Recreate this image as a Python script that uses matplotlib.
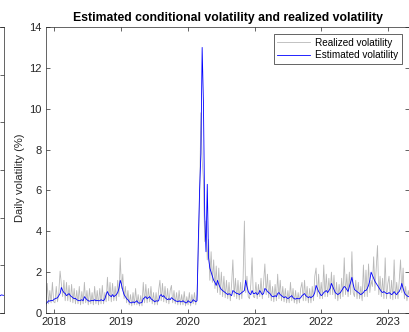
import pandas as pd
import matplotlib
matplotlib.use('Agg')
import matplotlib.pyplot as plt

plt.rcParams['font.family'] = ['Liberation Sans', 'DejaVu Sans']

# Weekly (Friday) values, daily volatility in %, grouped by calendar year
est_2017 = [0.45, 0.52, 0.6, 0.58, 0.62, 0.6, 0.65]
est_2018 = [0.7, 0.72, 0.75, 0.85,
            0.95, 1.25, 1.1, 1.0,
            0.95, 0.85, 0.9, 0.95, 0.85,
            0.8, 0.75, 0.7, 0.72,
            0.65, 0.62, 0.6, 0.62,
            0.65, 0.6, 0.8, 0.72, 0.65,
            0.6, 0.58, 0.6, 0.62,
            0.6, 0.65, 0.6, 0.62, 0.6,
            0.6, 0.65, 0.62, 0.6,
            0.7, 0.9, 1.05, 0.9,
            0.85, 0.8, 0.9, 0.8, 0.85,
            0.9, 1.0, 1.2, 1.6]
est_2019 = [1.4, 1.1, 0.9, 0.8,
            0.7, 0.65, 0.55, 0.5,
            0.5, 0.55, 0.5, 0.55, 0.6,
            0.5, 0.48, 0.5, 0.52,
            0.7, 0.75, 0.8, 0.7, 0.75,
            0.8, 0.7, 0.65, 0.6,
            0.55, 0.6, 0.58, 0.6,
            0.85, 0.9, 0.8, 0.85, 0.75,
            0.7, 0.65, 0.7, 0.65,
            0.75, 0.7, 0.65, 0.6,
            0.58, 0.55, 0.6, 0.55, 0.55,
            0.6, 0.55, 0.5, 0.5]
est_2020 = [0.6, 0.55, 0.5, 0.55, 0.65,
            0.6, 0.55, 0.6, 3.5,
            6.0, 7.8, 13.0, 10.3,
            4.8, 3.0, 6.3, 2.7,
            2.2, 2.0, 1.8, 1.6, 1.5,
            1.35, 1.6, 1.4, 1.25,
            1.15, 1.1, 1.05, 1.0, 0.95,
            0.9, 0.95, 0.9, 0.85,
            1.1, 1.05, 1.0, 0.95,
            0.95, 0.9, 0.95, 1.0, 1.05,
            1.1, 1.6, 1.3, 1.05,
            0.95, 0.9, 1.1, 0.95]
est_2021 = [0.95, 1.0, 0.9, 0.95, 1.1,
            1.0, 0.9, 0.95, 1.2,
            1.15, 1.05, 1.0, 0.95,
            0.85, 0.8, 0.8, 0.85, 0.8,
            0.95, 1.0, 0.9, 0.85,
            0.8, 0.75, 0.8, 0.75,
            0.7, 0.75, 0.8, 0.85, 0.75,
            0.7, 0.68, 0.72, 0.7,
            0.7, 0.75, 0.85, 0.9,
            0.95, 0.85, 0.8, 0.75, 0.8,
            0.75, 0.8, 0.85, 1.0,
            1.35, 1.2, 1.05, 0.95, 0.85]
est_2022 = [0.9, 1.0, 1.05, 1.1,
            1.0, 1.1, 1.2, 1.45,
            1.3, 1.15, 1.0, 0.95,
            0.9, 0.95, 1.0, 1.1, 1.2,
            1.3, 1.25, 1.15, 1.05,
            1.3, 1.5, 1.75, 1.4,
            1.15, 1.1, 1.05, 1.0, 0.95,
            0.9, 0.95, 1.0, 1.1,
            1.1, 1.2, 1.35, 1.6, 2.0,
            1.85, 1.7, 1.55, 1.45,
            1.35, 1.25, 1.15, 1.05,
            1.0, 1.05, 1.0, 0.95, 0.95]
est_2023 = [1.0, 0.95, 0.9, 0.95,
            1.05, 0.95, 0.9, 1.0,
            1.05, 1.2, 1.45, 1.2, 1.0,
            0.9, 0.85, 0.8, 0.8]

real_2017 = [0.35, 1.45, 0.45, 1.1, 0.5, 1.5, 0.55]
real_2018 = [0.5, 1.3, 0.55, 1.0,
             2.05, 1.4, 0.8, 1.6,
             0.6, 1.5, 0.6, 1.35, 0.55,
             1.4, 0.5, 1.2, 0.45,
             1.1, 0.45, 1.3, 0.4,
             1.05, 0.45, 1.5, 0.5, 1.1,
             0.4, 1.2, 0.45, 1.0,
             0.4, 1.3, 0.45, 1.1, 0.4,
             1.2, 0.45, 1.35, 0.45,
             1.0, 0.55, 1.75, 0.6,
             1.5, 0.55, 1.45, 0.6, 1.3,
             0.6, 1.6, 0.8, 2.7]
real_2019 = [1.2, 1.9, 0.7, 1.3,
             0.5, 1.1, 0.4, 0.9,
             0.35, 1.0, 0.4, 1.2, 0.4,
             0.9, 0.35, 0.85, 0.35,
             1.5, 0.5, 1.4, 0.5, 1.2,
             0.55, 1.3, 0.45, 1.0,
             0.4, 1.0, 0.4, 1.1,
             1.6, 0.6, 1.45, 0.55, 1.3,
             0.5, 1.2, 0.45, 1.1,
             1.35, 0.5, 1.1, 0.45,
             1.0, 0.4, 1.1, 0.4, 0.9,
             0.4, 1.05, 0.35, 0.8]
real_2020 = [0.4, 1.0, 0.35, 0.9, 0.45,
             1.0, 0.4, 0.9, 3.0,
             5.5, 9.8, 7.5, 6.5,
             3.5, 4.5, 2.6, 3.6,
             1.6, 3.0, 1.5, 2.6, 1.2,
             2.3, 1.0, 2.2, 0.9,
             2.0, 0.8, 1.8, 0.75, 1.6,
             0.7, 1.5, 0.6, 1.4,
             2.6, 0.8, 1.7, 0.7,
             1.6, 0.65, 1.5, 0.7, 1.7,
             4.5, 1.0, 1.8, 0.8,
             0.7, 1.4, 2.7, 0.8]
real_2021 = [0.75, 1.5, 0.7, 1.4, 0.8,
             1.7, 0.7, 1.5, 2.4,
             0.9, 1.9, 0.75, 1.6,
             0.6, 1.3, 0.55, 1.4, 0.6,
             1.9, 0.7, 1.6, 0.6,
             1.3, 0.55, 1.2, 0.5,
             1.1, 0.5, 1.5, 0.6, 1.2,
             0.5, 1.1, 0.45, 1.0,
             0.5, 1.2, 1.5, 0.6,
             1.6, 0.6, 1.3, 0.5, 1.2,
             0.5, 1.3, 0.6, 1.8,
             2.2, 0.8, 1.9, 0.7, 1.5]
real_2022 = [0.7, 2.35, 0.8, 1.9,
             0.8, 1.7, 0.9, 2.0,
             0.9, 1.85, 0.7, 1.5,
             0.6, 1.4, 0.7, 1.7, 0.8,
             2.7, 0.9, 1.9, 0.8,
             2.0, 0.9, 3.0, 1.0,
             0.8, 1.6, 0.7, 1.5, 0.7,
             1.3, 0.6, 2.35, 0.8,
             2.1, 0.8, 2.4, 1.0, 1.6,
             1.3, 2.75, 1.1, 2.2,
             3.3, 0.9, 1.8, 0.8,
             1.7, 0.7, 2.7, 0.7, 1.4]
real_2023 = [1.8, 0.7, 1.6, 0.65,
             2.6, 0.7, 1.5, 0.7,
             1.6, 2.6, 1.0, 2.2, 0.7,
             1.3, 0.6, 1.1, 0.75]

# tail of the neighbouring panel on the left
left_panel_tail = [0.8, 0.72, 0.78, 0.7, 0.76, 0.74]

years = [2018, 2019, 2020, 2021, 2022, 2023]

est_vol = est_2017 + est_2018 + est_2019 + est_2020 + est_2021 + est_2022 + est_2023
real_vol = real_2017 + real_2018 + real_2019 + real_2020 + real_2021 + real_2022 + real_2023
dates = pd.date_range('2017-11-17', periods=len(est_vol), freq='W-FRI')

axis_color = '#262626'


def style_axes(ax):
    for sp in ax.spines.values():
        sp.set_linewidth(0.5)
        sp.set_color(axis_color)
    ax.tick_params(direction='in', length=3, width=0.5, color=axis_color,
                   labelcolor=axis_color, labelsize=8, pad=3,
                   top=True, right=True)


fig = plt.figure(figsize=(4.1, 3.32), dpi=100)

# main panel
ax = fig.add_axes([46 / 410, 19 / 332, 363.5 / 410, 286 / 332])
ax.plot(dates, real_vol, color=(0.72, 0.72, 0.72), lw=0.6, label='Realized volatility')
ax.plot(dates, est_vol, color=(0, 0, 1), lw=0.6, label='Estimated volatility')
ax.set_xlim(dates[0], dates[-1])
ax.set_ylim(0, 14)
ax.set_yticks(range(0, 15, 2))
ax.set_xticks([pd.Timestamp(f'{y}-01-01') for y in years])
ax.set_xticklabels([str(y) for y in years])
style_axes(ax)
ax.set_ylabel('Daily volatility (%)', fontsize=8, color=axis_color)
ax.yaxis.set_label_coords(-0.058, 0.472)
ax.set_title('Estimated conditional volatility and realized volatility',
             fontsize=8.8, fontweight='bold', pad=4)
leg = ax.legend(loc='upper right', fontsize=7.2, handlelength=3.3, handletextpad=0.5,
                borderaxespad=0.75, fancybox=False, framealpha=1, borderpad=0.35,
                labelspacing=0.25)
leg.get_frame().set_linewidth(0.5)
leg.get_frame().set_edgecolor(axis_color)

# right edge of the neighbouring panel
ax0 = fig.add_axes([-0.3, 19 / 332, 0.3 + 3.5 / 410, 286 / 332])
ax0.plot(dates[-len(left_panel_tail):], left_panel_tail, color=(0, 0, 1), lw=0.6)
ax0.set_xlim(dates[-60], dates[-1])
ax0.set_ylim(0, 12)
ax0.set_yticks(range(0, 13, 2))
style_axes(ax0)
ax0.tick_params(labelleft=False, labelbottom=False)

fig.savefig('out.png', dpi=100)
